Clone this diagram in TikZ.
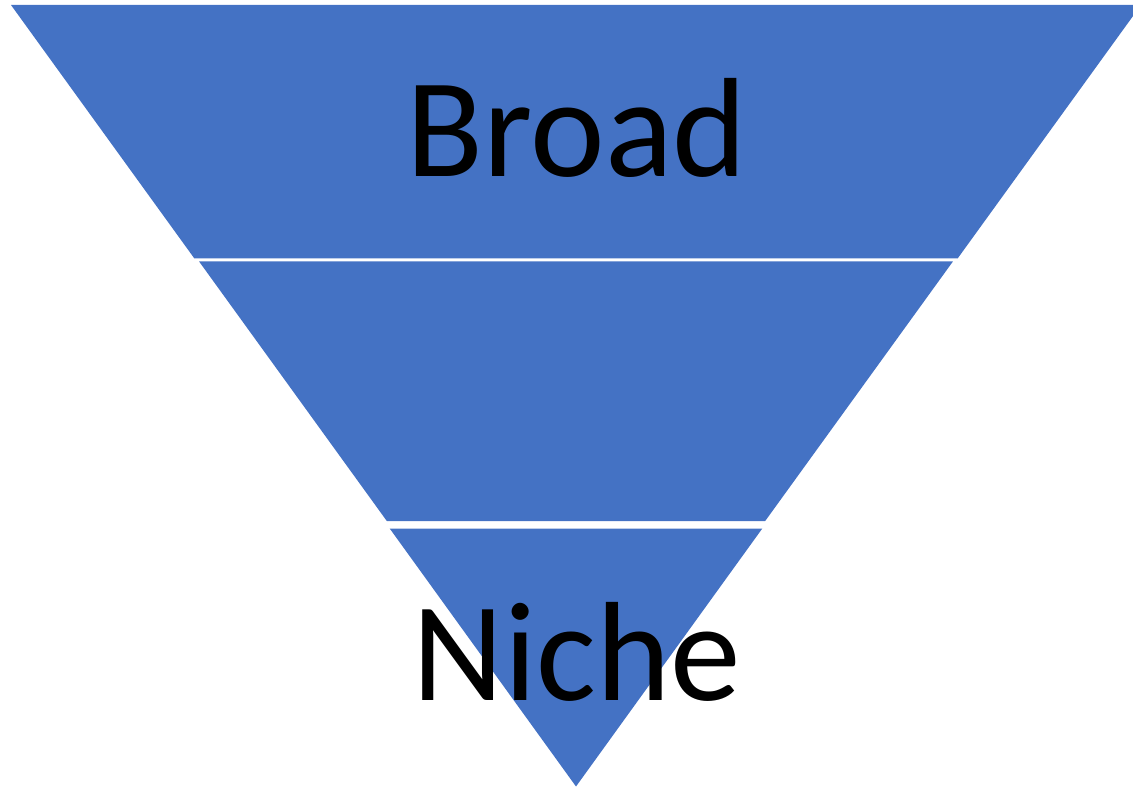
\documentclass[tikz,border=0pt]{standalone}
\usepackage{fontspec}
\setmainfont{Carlito}
\definecolor{funnelblue}{HTML}{4472C4}
\tikzset{
  layer/.style={fill=funnelblue},
  bigtext/.style={anchor=base, inner sep=0pt, text=black, font=\fontsize{106}{124}\selectfont}
}
\begin{document}
\begin{tikzpicture}[x=0.75pt,y=-0.75pt]
\useasboundingbox (0,0) rectangle (1133,788);
\begin{scope}
\clip (0,0) rectangle (1133,788);
% top layer
\fill[layer] (11,5) -- (1141,5) -- (957.6,258.5) -- (194.4,258.5) -- cycle;
% middle layer
\fill[layer] (199.1,261.5) -- (952.9,261.5) -- (765.2,521) -- (386.8,521) -- cycle;
% bottom layer
\fill[layer] (389.7,528.5) -- (762.3,528.5) -- (576,786.5) -- cycle;
\end{scope}
\node[bigtext] (broad) at (577,177) {Broad};
\node[bigtext] (niche) at (577,700) {Niche};
\end{tikzpicture}
\end{document}
